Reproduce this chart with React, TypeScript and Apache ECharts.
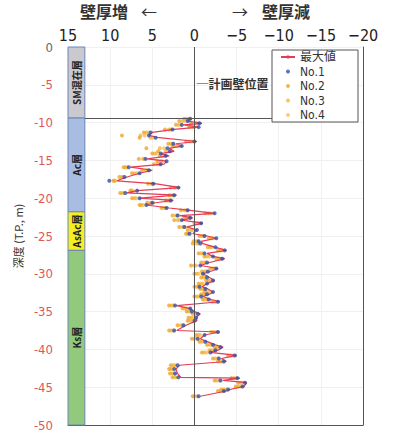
import React, { useEffect, useRef } from 'react';
import * as echarts from 'echarts';

// depth (T.P., m)
const depths = [
  -9.5, -9.8, -10.1, -10.3, -10.6, -10.9, -11.3, -11.7, -12.0, -12.5,
  -12.8, -13.1, -13.4, -13.8, -14.1, -14.4, -14.8, -15.1, -15.5, -15.9,
  -16.3, -16.7, -17.2, -17.7, -18.1, -18.6, -19.0, -19.3, -19.6, -20.0,
  -20.3, -20.6, -20.9, -21.3, -21.6, -22.0, -22.3, -22.6, -22.9, -23.3,
  -23.8, -24.2, -24.7, -25.0, -25.3, -25.7, -26.0, -26.5, -26.9, -27.3,
  -27.7, -28.0, -28.5, -28.9, -29.3, -29.7, -30.0, -30.5, -30.9, -31.3,
  -31.7, -32.0, -32.4, -32.7, -33.0, -33.4, -33.7, -34.2, -34.6, -35.0,
  -35.3, -35.8, -36.2, -36.8, -37.5, -37.7, -38.1, -38.6, -39.0, -39.4,
  -39.7, -40.1, -40.4, -40.8, -41.2, -41.6, -42.1, -42.6, -43.2, -43.7,
  -43.8, -44.1, -44.4, -44.9, -45.3, -45.5, -46.2,
];

// 最大値
const maxVals = [
  0.3, 0.8, -0.9, 1.3, -0.5, 2.4, 5.0, 5.4, 4.2, -0.3,
  2.2, 1.5, 3.0, 2.4, 4.0, 3.0, 5.6, 3.3, 3.6, 7.6,
  5.0, 6.5, 8.0, 9.2, 4.5, 1.7, 6.8, 8.0, 2.1, 6.5,
  2.5, 4.6, 5.7, 3.0, 0.5, -2.4, 1.7, 0.2, 1.5, -1.0,
  0.9, -0.3, 0.2, -1.5, -2.6, -0.8, -1.0, -2.5, -3.8, -1.5,
  -2.2, -3.6, -1.8, -0.7, -2.8, -1.9, -1.0, -1.8, -2.4, -1.5,
  -0.9, -1.6, -2.2, -1.8, -1.0, -2.0, -3.0, 2.1, 0.5, 0.0,
  -0.7, -0.2, -0.3, 1.0, 2.1, -3.0, -1.2, -0.7, -1.6, -2.5,
  -3.4, -2.8, -1.9, -5.0, -3.2, -3.8, 1.8, 2.2, 2.0, 1.6,
  -5.4, -3.4, -6.2, -5.9, -4.2, -3.8, -0.7,
];

const no1 = [
  0.5, 0.8, -0.6, 1.5, -0.5, 2.6, 5.2, 5.4, 4.6, 0.0,
  2.5, 1.5, 3.2, 2.9, 4.0, 3.4, 5.8, 3.3, 4.0, 7.8,
  5.4, 6.5, 8.3, 10.1, 4.9, 1.9, 6.8, 8.2, 2.4, 6.5,
  2.8, 5.0, 5.7, 3.3, 0.8, -2.4, 2.0, 0.5, 1.5, -0.8,
  1.2, -0.3, 0.6, -1.2, -2.6, -0.5, -0.7, -2.5, -3.6, -1.2,
  -2.2, -3.3, -1.5, -0.7, -2.6, -1.6, -1.0, -1.5, -2.2, -1.5,
  -0.6, -1.3, -2.2, -1.5, -0.8, -1.7, -2.8, 2.3, 0.5, 0.3,
  -0.4, -0.2, 0.0, 1.3, 2.4, -2.8, -1.2, -0.4, -1.3, -2.2,
  -3.1, -2.5, -1.9, -4.8, -2.9, -3.5, 2.0, 2.4, 2.3, 1.9,
  -5.1, -3.1, -6.0, -5.7, -4.0, -3.5, -0.5,
];

const no2 = [
  1.2, 1.8, 0.4, 2.2, 0.6, 3.5, 6.0, 8.6, 6.5, 1.0,
  3.1, 2.6, 5.7, 4.3, 5.0, 4.1, 6.6, 4.4, 4.8, 8.4,
  6.2, 7.4, 8.9, 9.6, 5.5, 2.8, 7.6, 8.8, 3.0, 7.4,
  3.4, 5.6, 6.5, 3.9, 1.6, -1.3, 2.6, 1.2, 2.4, 0.0,
  1.8, 0.8, 1.0, -0.6, -1.7, 0.1, 0.2, -1.6, -2.8, -0.5,
  -1.2, -2.6, -0.8, 0.4, -1.9, -0.9, 0.0, -0.8, -1.4, -0.5,
  0.0, -0.7, -1.2, -0.8, 0.0, -1.0, -2.1, 3.0, 1.4, 0.9,
  0.2, 0.7, 0.8, 2.0, 3.0, -2.0, -0.2, 0.3, -0.6, -1.5,
  -2.4, -1.8, -0.9, -4.0, -2.2, -2.8, 2.8, 3.0, 2.9, 2.6,
  -4.4, -2.4, -5.2, -4.9, -3.2, -2.8, 0.2,
];

const no3 = [
  0.9, 1.4, -0.2, 1.9, 0.2, 3.0, 5.7, 6.4, 5.2, 0.6,
  2.8, 2.2, 4.1, 3.4, 4.7, 3.8, 6.1, 4.0, 4.4, 8.2,
  5.8, 7.1, 8.6, 9.5, 5.1, 2.4, 7.5, 8.5, 2.7, 7.1,
  3.1, 5.2, 6.3, 3.6, 1.2, -1.7, 2.2, 0.9, 2.0, -0.4,
  1.4, 0.4, 0.8, -0.9, -2.0, -0.2, -0.3, -1.9, -3.1, -0.8,
  -1.5, -2.9, -1.1, 0.0, -2.2, -1.2, -0.3, -1.1, -1.7, -0.8,
  -0.3, -1.0, -1.5, -1.1, -0.3, -1.3, -2.4, 2.7, 1.1, 0.6,
  -0.1, 0.4, 0.5, 1.6, 2.7, -2.3, -0.5, 0.0, -0.9, -1.8,
  -2.7, -2.1, -1.2, -4.3, -2.5, -3.1, 2.5, 2.8, 2.6, 2.3,
  -4.7, -2.7, -5.5, -5.2, -3.5, -3.1, 0.0,
];

const no4 = [
  0.6, 1.0, -0.5, 1.6, 0.0, 2.8, 5.4, 5.9, 4.9, 0.3,
  2.6, 1.8, 3.6, 3.0, 4.5, 3.5, 6.0, 3.8, 4.2, 8.0,
  5.6, 6.8, 8.5, 9.4, 4.8, 2.2, 7.3, 8.4, 2.5, 6.9,
  2.9, 4.9, 6.1, 3.4, 0.9, -2.0, 1.9, 0.6, 1.8, -0.6,
  1.1, 0.2, 0.5, -1.1, -2.2, -0.4, -0.5, -2.1, -3.3, -1.0,
  -1.8, -3.1, -1.3, -0.2, -2.4, -1.4, -0.5, -1.3, -1.9, -1.0,
  -0.5, -1.2, -1.8, -1.3, -0.5, -1.5, -2.6, 2.5, 0.9, 0.4,
  -0.3, 0.2, 0.2, 1.4, 2.5, -2.6, -0.7, -0.3, -1.2, -2.0,
  -2.9, -2.4, -1.5, -4.6, -2.8, -3.4, 2.3, 2.6, 2.4, 2.1,
  -5.0, -3.0, -5.8, -5.5, -3.8, -3.4, -0.3,
];

const seriesNames = ['最大値', 'No.1', 'No.2', 'No.3', 'No.4'];

const strataNames = ['SM混在層', 'Ac層', 'AsAc層', 'Ks層'];
const strataTop = [0, -9.4, -21.8, -26.9];
const strataBottom = [-9.4, -21.8, -26.9, -50];
const strataColors = ['#c9c9cf', '#a9bde3', '#f4ee22', '#93c97c'];

const planWallDepth = -9.4;

const NARROW = '"Liberation Sans Narrow", "DejaVu Sans Condensed", "Noto Sans CJK JP", sans-serif';
const CJK = '"Noto Sans CJK JP", sans-serif';

const pairs = (vals: number[]) =>
  depths.map((d, i) => [vals[i], d]).filter((p) => p[0] !== undefined);

export default function App() {
  const ref = useRef<HTMLDivElement>(null);
  useEffect(() => {
    if (!ref.current) return;
    const chart = echarts.init(ref.current, null, { renderer: 'svg' });
    const strataX0 = 15;
    const strataX1 = 13;
    const option: any = {
      animation: false,
      backgroundColor: '#ffffff',
      textStyle: { fontFamily: NARROW },
      grid: { left: 68, right: 32, top: 47, bottom: 7, containLabel: false },
      graphic: [
        { type: 'text', left: 80, top: 3, style: { text: '壁厚増', font: 'bold 16px ' + CJK, fill: '#333' } },
        { type: 'text', left: 141, top: 3, style: { text: '←', font: '16px ' + CJK, fill: '#333' } },
        { type: 'text', left: 232, top: 3, style: { text: '→', font: '16px ' + CJK, fill: '#333' } },
        { type: 'text', left: 262, top: 3, style: { text: '壁厚減', font: 'bold 16px ' + CJK, fill: '#333' } },
      ],
      legend: {
        left: 272,
        top: 50,
        orient: 'vertical',
        itemWidth: 14,
        itemHeight: 4,
        itemGap: 2.5,
        padding: [1, 22, 1, 8],
        backgroundColor: '#ffffff',
        borderColor: '#555',
        borderWidth: 1,
        borderRadius: 0,
        textStyle: { fontFamily: NARROW, fontSize: 12, color: '#333' },
        data: seriesNames.map((n) => ({ name: n })),
      },
      xAxis: [
        {
          type: 'value',
          position: 'top',
          inverse: true,
          min: -20,
          max: 15,
          interval: 5,
          axisLine: { show: false },
          axisTick: { show: false },
          splitLine: { show: true, lineStyle: { color: '#f0f0f0' } },
          axisLabel: {
            margin: 4,
            fontSize: 16,
            color: '#222',
            fontFamily: NARROW,
            formatter: (v: number) => (v < 0 ? '−' + Math.abs(v) : String(v)),
          },
        },
        {
          type: 'value',
          position: 'bottom',
          inverse: true,
          min: -20,
          max: 15,
          interval: 5,
          axisLine: { show: true, onZero: false, lineStyle: { color: '#555' } },
          axisTick: { show: false },
          splitLine: { show: false },
          axisLabel: { show: false },
        },
      ],
      yAxis: [
        {
          type: 'value',
          min: -50,
          max: 0,
          interval: 5,
          name: '深度 (T.P., m)',
          nameLocation: 'middle',
          nameRotate: 90,
          nameGap: 42,
          nameTextStyle: { fontFamily: CJK, fontSize: 11, color: '#333' },
          axisLine: { show: false },
          axisTick: { show: false },
          splitLine: { show: true, lineStyle: { color: '#f0f0f0' } },
          axisLabel: {
            margin: 15,
            fontSize: 13,
            fontFamily: NARROW,
            color: (v: any) => (Number(v) === 0 ? '#666' : '#e0565a'),
          },
        },
        {
          type: 'value',
          position: 'right',
          min: -50,
          max: 0,
          interval: 5,
          axisLine: { show: true, onZero: false, lineStyle: { color: '#555' } },
          axisTick: { show: false },
          splitLine: { show: false },
          axisLabel: { show: false },
        },
      ],
      series: [
        {
          type: 'custom',
          name: 'strata',
          silent: true,
          z: 1,
          encode: { x: [0, 2], y: [1, 3] },
          data: strataNames.map((n, i) => [strataX0, strataTop[i], strataX1, strataBottom[i], i]),
          renderItem: (params: any, api: any) => {
            const i = api.value(4);
            const p1 = api.coord([api.value(0), api.value(1)]);
            const p2 = api.coord([api.value(2), api.value(3)]);
            return {
              type: 'group',
              children: [
                {
                  type: 'rect',
                  shape: { x: p1[0], y: p1[1], width: p2[0] - p1[0], height: p2[1] - p1[1] },
                  style: { fill: strataColors[i], stroke: '#6d86b8', lineWidth: 1 },
                },
                {
                  type: 'text',
                  x: (p1[0] + p2[0]) / 2,
                  y: (p1[1] + p2[1]) / 2,
                  rotation: Math.PI / 2,
                  style: {
                    text: strataNames[i],
                    fill: '#222',
                    font: 'bold 10px ' + CJK,
                    align: 'center',
                    verticalAlign: 'middle',
                  },
                },
              ],
            };
          },
        },
        {
          type: 'scatter',
          name: 'No.4',
          data: pairs(no4),
          symbolSize: 4,
          itemStyle: { color: '#f7c25a' },
          z: 2,
        },
        {
          type: 'scatter',
          name: 'No.3',
          data: pairs(no3),
          symbolSize: 4,
          itemStyle: { color: '#f2b63a' },
          z: 2,
        },
        {
          type: 'scatter',
          name: 'No.2',
          data: pairs(no2),
          symbolSize: 4,
          itemStyle: { color: '#eea52a' },
          z: 2,
        },
        {
          type: 'line',
          name: '最大値',
          data: pairs(maxVals),
          symbol: 'none',
          lineStyle: { color: '#e63a55', width: 1.2 },
          itemStyle: { color: '#e63a55' },
          z: 3,
          markLine: {
            silent: true,
            symbol: 'none',
            label: { show: false },
            lineStyle: { color: '#555', width: 1, type: 'solid' },
            data: [
              { xAxis: 0 },
              [{ coord: [13, planWallDepth] }, { coord: [-9.2, planWallDepth] }],
            ],
          },
          markPoint: {
            silent: true,
            symbol: 'circle',
            symbolSize: 0,
            label: {
              show: true,
              position: 'right',
              distance: 2,
              formatter: '─計画壁位置',
              fontFamily: CJK,
              fontSize: 12,
              fontWeight: 'bold',
              color: '#333',
            },
            data: [{ coord: [0, -4.8] }],
          },
        },
        {
          type: 'scatter',
          name: 'No.1',
          data: pairs(no1),
          symbolSize: 4,
          itemStyle: { color: '#3550a8' },
          z: 4,
        },
      ],
    };
    chart.setOption(option);
    return () => chart.dispose();
  }, []);
  return (
    <div
      ref={ref}
      style={{ position: 'absolute', left: 0, top: 0, width: 395, height: 432 }}
    />
  );
}
